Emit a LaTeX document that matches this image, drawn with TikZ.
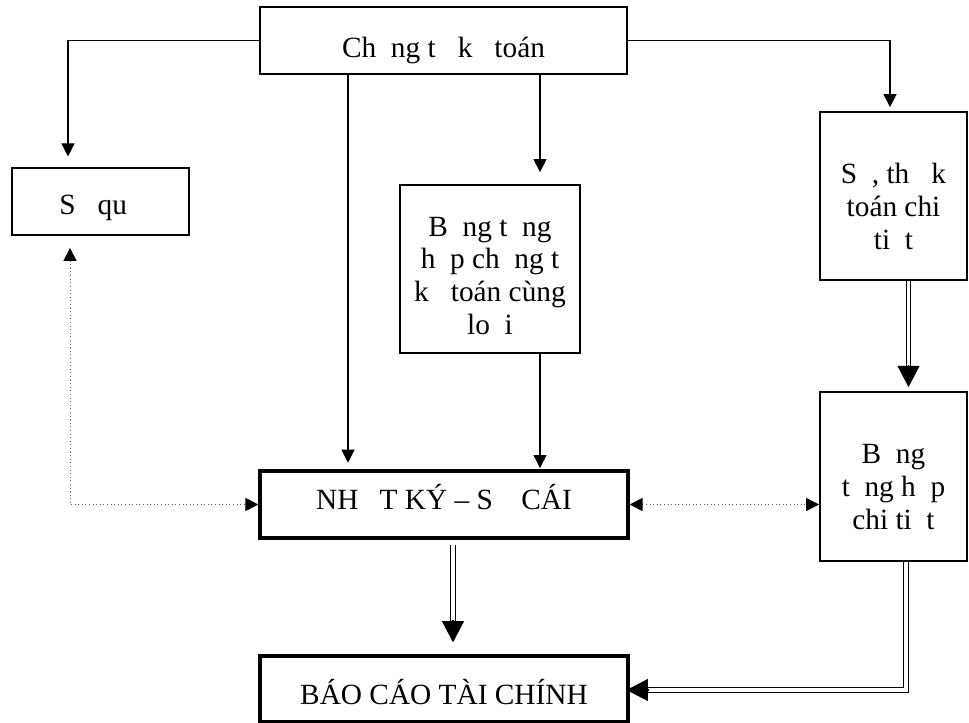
\documentclass[tikz,border=0pt]{standalone}
\usepackage{fontspec}
\setmainfont{Liberation Serif}
\usetikzlibrary{arrows.meta,calc}
\newcommand{\mg}{\hspace{0.5em}}
\newcommand{\mgc}{\hspace{0.72em}}
\newcommand{\dn}[1]{\rule{0pt}{#1}}
\begin{document}
\begin{tikzpicture}[x=0.75pt,y=-0.75pt,
  box/.style={draw, line width=1.3pt, inner sep=0pt, align=center,
    font=\fontsize{22}{24.5}\selectfont},
  thickbox/.style={box, line width=2.4pt},
  conn/.style={line width=0.8pt, -{Triangle[width=9.8pt,length=9.8pt]}},
  dots/.style={line width=0.7pt, dotted, black!65,
    {Triangle[width=9.8pt,length=9.8pt,color=black]}-{Triangle[width=9.8pt,length=9.8pt,color=black]}},
  dbl/.style={double, line width=0.9pt, double distance=2.4pt},
  bigtip/.style={line width=0.9pt, -{Triangle[width=16.5pt,length=16pt]}}]
\useasboundingbox (0,0) rectangle (969,723);

\node[box, minimum width=275.25pt, minimum height=50.25pt, text height=25pt, text depth=0pt]
  (top) at (443.5,40.5) {Ch\mg ng t\mg{} k\mg{} toán};
\node[box, minimum width=132.75pt, minimum height=50.25pt, text height=19.8pt, text depth=0pt]
  (soquy) at (100.5,201.5) {S\mg{} qu\mg};
\node[box, minimum width=135pt, minimum height=126pt]
  (bangth) at (490,269) {\dn{24.5pt}B\mg ng t\mg ng\\ h\mg p ch\mg ng t\mg\\ k\mg{} toán cùng\\ lo\mg i};
\node[box, minimum width=110.25pt, minimum height=126pt]
  (sothe) at (893.5,196) {\dn{31pt}S\mg, th\mg{} k\mg\\ toán chi\\ ti\mg t};
\node[thickbox, minimum width=276pt, minimum height=50.25pt, text height=15.8pt, text depth=8pt]
  (nhatky) at (444,504.5) {NH\mgc T KÝ – S\mgc{} CÁI};
\node[box, minimum width=110.25pt, minimum height=126.75pt]
  (bangct) at (893.5,476.5) {\dn{30pt}B\mg ng\\ t\mg ng h\mg p\\ chi ti\mg t};
\node[thickbox, minimum width=276pt, minimum height=49.5pt, text height=22.8pt, text depth=0pt]
  (baocao) at (444,689) {BÁO CÁO TÀI CHÍNH};

\coordinate (xL) at (68,0);
\coordinate (xD) at (70,0);
\coordinate (xA) at (348,0);
\coordinate (xB) at (540,0);
\coordinate (xC) at (890,0);
\coordinate (xR) at (908.5,0);
\coordinate (xN) at (453,0);
\coordinate (xS) at (906,0);

% thin solid connectors
\draw[conn, shorten >=8pt] (top.west) -| (xL |- soquy.north);
\draw[conn, shorten >=5pt] (xA |- top.south) -- (xA |- nhatky.north);
\draw[conn, shorten >=9pt] (xB |- top.south) -- (xB |- bangth.north);
\draw[conn, shorten >=1pt] (xB |- bangth.south) -- (xB |- nhatky.north);
\draw[conn, shorten >=3pt] (top.east) -| (xC |- sothe.north);

% dotted connectors
\draw[dots, shorten <=9pt] (xD |- soquy.south) |- (nhatky.west);
\draw[dots] (nhatky.east) -- (nhatky.east -| bangct.west);

% double connectors
\draw[dbl] (xR |- sothe.south) -- ($(xR |- bangct.north)+(0,-24)$);
\draw[bigtip] ($(xR |- bangct.north)+(0,-26)$) -- ($(xR |- bangct.north)+(0,-4)$);

\draw[dbl] ($(xN |- nhatky.south)+(0,5)$) -- ($(xN |- baocao.north)+(0,-32)$);
\draw[bigtip] ($(xN |- baocao.north)+(0,-34)$) -- ($(xN |- baocao.north)+(0,-12)$);

\draw[dbl] (xS |- bangct.south) |- ($(baocao.east)+(18,1)$);
\draw[bigtip] ($(baocao.east)+(19,1)$) -- ($(baocao.east)+(-3,1)$);
\end{tikzpicture}
\end{document}
